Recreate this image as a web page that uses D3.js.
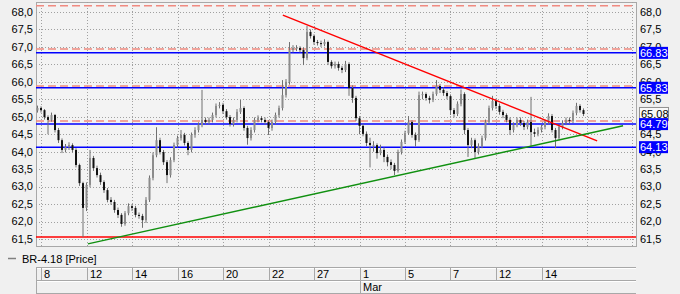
<!DOCTYPE html>
<html>
<head>
<meta charset="utf-8">
<script src="https://cdn.jsdelivr.net/npm/d3@7"></script>
<style>
  body { margin: 0; background: #f0f0f0; }
  svg { display: block; font-family: "Liberation Sans", Arial, sans-serif; }
</style>
</head>
<body>
<svg id="chart" width="680" height="294"></svg>
<script>
// price bars (one per bar, left to right)
const opens = [65.18,65.25,65.19,64.99,64.91,65.05,64.62,64.33,64.05,64.13,
  64.19,64.05,63.62,63.10,62.39,63.05,63.82,63.53,63.33,63.13,
  62.90,62.62,62.56,62.33,62.19,61.93,62.24,62.44,62.39,62.19,
  62.16,62.04,62.62,63.25,63.90,64.33,63.99,63.70,63.33,63.76,
  64.19,64.39,64.48,64.25,64.05,64.48,64.62,64.76,64.91,64.85,
  64.91,65.05,65.31,65.34,65.16,64.99,64.79,64.91,65.14,65.25,
  64.68,64.39,64.62,64.91,64.96,64.91,64.85,64.68,64.85,65.05,
  65.25,65.62,66.00,66.91,66.97,66.97,66.91,66.68,67.43,67.31,
  67.14,67.11,67.08,67.14,66.57,66.45,66.51,66.40,66.34,66.51,
  65.82,65.54,64.96,64.74,64.51,64.25,64.19,64.19,63.96,64.05,
  63.85,63.70,63.62,63.45,63.99,64.28,64.53,64.85,64.48,64.33,
  65.62,65.65,65.54,65.48,65.65,65.88,65.77,65.68,65.59,65.19,
  65.08,65.37,65.65,64.62,64.19,64.33,63.99,64.16,64.39,64.85,
  65.25,65.45,65.31,65.14,65.05,64.91,64.62,64.76,64.91,64.82,
  64.71,64.85,64.56,64.51,64.62,64.71,64.85,65.02,64.62,64.39,
  64.71,64.82,64.91,64.88,65.11,65.31,65.19];
const highs = [65.32,65.30,65.22,65.04,65.12,65.08,64.68,64.38,64.22,64.27,
  64.24,64.10,63.66,63.14,63.12,64.05,63.88,63.60,63.40,63.18,
  62.96,62.70,62.62,62.40,62.24,62.30,62.52,62.50,62.45,62.26,
  62.22,62.70,63.32,63.98,64.70,64.40,64.05,63.76,63.84,64.26,
  64.46,64.62,64.54,64.30,64.55,64.70,64.84,65.77,64.98,64.98,
  65.12,65.38,65.42,65.40,65.22,65.05,64.98,65.22,65.48,65.30,
  64.74,64.70,64.98,65.04,65.02,64.98,64.90,64.92,65.12,65.32,
  66.05,66.08,67.14,67.05,67.05,67.02,66.98,67.60,67.50,67.36,
  67.20,67.18,67.22,67.18,66.62,66.58,66.58,66.46,66.60,66.56,
  65.90,65.60,65.02,64.80,64.58,64.40,64.30,64.24,64.20,64.12,
  63.92,63.78,63.68,64.06,64.35,64.60,65.02,64.90,64.55,65.72,
  65.72,65.70,65.60,65.72,66.05,65.94,65.84,65.74,65.64,65.25,
  65.44,65.78,65.70,64.68,64.40,64.38,64.24,64.46,64.92,65.32,
  65.60,65.52,65.38,65.20,65.10,64.98,64.84,64.98,64.98,64.88,
  64.92,65.57,64.66,64.70,64.78,64.92,65.10,65.08,64.68,64.78,
  64.90,64.98,64.98,65.18,65.40,65.36,65.24];
const lows = [65.12,65.12,64.92,64.50,64.86,64.55,64.25,63.96,63.98,64.05,
  63.98,63.55,63.02,61.56,62.30,62.98,63.45,63.26,63.05,62.82,
  62.55,62.48,62.25,62.10,61.85,61.88,62.18,62.30,62.12,62.08,
  61.82,61.96,62.56,63.18,63.84,63.92,63.62,63.10,63.26,63.70,
  64.12,64.32,64.18,63.90,63.98,64.40,64.55,64.70,64.78,64.78,
  64.84,64.98,65.24,65.08,64.92,64.72,64.72,64.84,65.08,64.60,
  64.20,64.32,64.55,64.84,64.84,64.78,64.48,64.60,64.78,64.98,
  65.18,65.55,65.92,66.84,66.88,66.84,66.48,66.62,67.24,67.06,
  67.04,67.00,67.02,66.48,66.38,66.38,66.32,66.25,66.28,65.60,
  65.40,64.88,64.50,64.44,64.16,63.55,64.00,63.80,63.90,63.70,
  63.58,63.50,63.33,63.40,63.92,64.22,64.48,64.40,64.15,64.28,
  65.50,65.46,65.38,65.42,65.60,65.68,65.60,65.50,65.05,64.98,
  65.02,65.30,64.50,63.85,64.10,63.80,63.92,64.10,64.32,64.78,
  65.18,65.22,65.06,64.96,64.84,64.48,64.55,64.70,64.74,64.62,
  64.64,64.13,64.42,64.44,64.55,64.64,64.78,64.55,64.10,64.32,
  64.64,64.76,64.80,64.82,65.04,65.12,65.02];
const closes = [65.25,65.19,64.99,64.91,65.05,64.62,64.33,64.05,64.13,64.19,
  64.05,63.62,63.10,62.39,63.05,63.82,63.53,63.33,63.13,62.90,
  62.62,62.56,62.33,62.19,61.93,62.24,62.44,62.39,62.19,62.16,
  62.04,62.62,63.25,63.90,64.33,63.99,63.70,63.33,63.76,64.19,
  64.39,64.48,64.25,64.05,64.48,64.62,64.76,64.91,64.85,64.91,
  65.05,65.31,65.34,65.16,64.99,64.79,64.91,65.14,65.25,64.68,
  64.39,64.62,64.91,64.96,64.91,64.85,64.68,64.85,65.05,65.25,
  65.62,66.00,66.91,66.97,66.97,66.91,66.68,67.43,67.31,67.14,
  67.11,67.08,67.14,66.57,66.45,66.51,66.40,66.34,66.51,65.82,
  65.54,64.96,64.74,64.51,64.25,64.19,64.19,63.96,64.05,63.85,
  63.70,63.62,63.45,63.99,64.28,64.53,64.85,64.48,64.33,65.62,
  65.65,65.54,65.48,65.65,65.88,65.77,65.68,65.59,65.19,65.08,
  65.37,65.65,64.62,64.19,64.33,63.99,64.16,64.39,64.85,65.25,
  65.45,65.31,65.14,65.05,64.91,64.62,64.76,64.91,64.82,64.71,
  64.85,64.56,64.51,64.62,64.71,64.85,65.02,64.62,64.39,64.71,
  64.82,64.91,64.88,65.11,65.31,65.19,65.08];

// date axis: bar index where each label starts
const dateLabels = ["8","12","14","16","20","22","27","1","5","7","12","14"];
const dateIndex = [1,14,27,40,53,66,79,92,105,118,131,144];
const gridIndex = [1,14,27,40,53,66,79,92,105,118,131,144,157,170];
const monthLabel = "Mar";
const monthIndex = 92;

const yTicks = [61.5,62.0,62.5,63.0,63.5,64.0,64.5,65.0,65.5,66.0,66.5,67.0,67.5,68.0];
const blueLevels = [66.83, 65.83, 64.79, 64.13];
const dashedLevels = [68.18, 66.94, 65.88, 64.88];
const redLevel = 61.56;
const lastPrice = 65.08;
// trend lines as [bar index, price]
const resistTrend = [[70.1, 67.91], [159.9, 64.31]];
const supportTrend = [[14.4, 61.36], [167.3, 64.74]];

const svg = d3.select("#chart");
const plot = { left: 36, right: 636, top: 2, bottom: 246 };

const x = d3.scaleLinear().domain([0, closes.length - 1]).range([37.5, 583.5]);
const y = d3.scaleLinear().domain([61.5, 68.0]).range([239, 12]);

// plot frame
svg.append("rect")
  .attr("x", plot.left + 0.5).attr("y", plot.top + 0.5)
  .attr("width", plot.right - plot.left).attr("height", plot.bottom - plot.top)
  .attr("fill", "#f3f3f3").attr("stroke", "#a8a8a8");

// dotted grid
svg.append("g").selectAll("line").data(yTicks).enter().append("line")
  .attr("x1", plot.left).attr("x2", plot.right)
  .attr("y1", d => Math.round(y(d)) + 0.5).attr("y2", d => Math.round(y(d)) + 0.5)
  .attr("stroke", "#a0a0a0").attr("stroke-dasharray", "1,2");
svg.append("g").selectAll("line").data(gridIndex).enter().append("line")
  .attr("x1", d => Math.round(x(d)) + 0.5).attr("x2", d => Math.round(x(d)) + 0.5)
  .attr("y1", plot.top).attr("y2", plot.bottom)
  .attr("stroke", "#a0a0a0").attr("stroke-dasharray", "1,2");

// horizontal levels
svg.append("g").selectAll("line").data(dashedLevels).enter().append("line")
  .attr("x1", plot.left).attr("x2", plot.right)
  .attr("y1", d => y(d)).attr("y2", d => y(d))
  .attr("stroke", "#f08a80").attr("stroke-width", 1.5).attr("stroke-dasharray", "8,4");
svg.append("g").selectAll("line").data(blueLevels).enter().append("line")
  .attr("x1", plot.left).attr("x2", plot.right)
  .attr("y1", d => y(d)).attr("y2", d => y(d))
  .attr("stroke", "#0000ff").attr("stroke-width", 1.5);
svg.append("line")
  .attr("x1", plot.left).attr("x2", plot.right)
  .attr("y1", y(redLevel)).attr("y2", y(redLevel))
  .attr("stroke", "#ff0000").attr("stroke-width", 1.5);

// candles
const bars = closes.map((c, i) => ({ i: i, o: opens[i], h: highs[i], l: lows[i], c: c }));
const g = svg.append("g");
g.selectAll(".wick").data(bars).enter().append("line")
  .attr("x1", d => x(d.i)).attr("x2", d => x(d.i))
  .attr("y1", d => y(d.h)).attr("y2", d => y(d.l))
  .attr("stroke", "#707070").attr("stroke-width", 1);
g.selectAll(".body").data(bars).enter().append("rect")
  .attr("x", d => x(d.i) - 1).attr("width", 2)
  .attr("y", d => y(Math.max(d.o, d.c)))
  .attr("height", d => Math.max(1, Math.abs(y(d.o) - y(d.c))))
  .attr("fill", d => d.c < d.o ? "#111" : "#8c8c8c");

// trend lines
const trend = d3.line().x(d => x(d[0])).y(d => y(d[1]));
svg.append("path").attr("d", trend(resistTrend))
  .attr("fill", "none").attr("stroke", "#ff0000").attr("stroke-width", 1.5);
svg.append("path").attr("d", trend(supportTrend))
  .attr("fill", "none").attr("stroke", "#109010").attr("stroke-width", 1.5);

// axis labels
svg.append("g").selectAll("text").data(yTicks).enter().append("text")
  .attr("x", 33).attr("y", d => y(d)).attr("dy", "0.35em")
  .attr("text-anchor", "end").attr("font-size", 11).attr("fill", "#000")
  .text(d => d3.format(".1f")(d).replace(".", ","));
svg.append("g").selectAll("text").data(yTicks).enter().append("text")
  .attr("x", 640).attr("y", d => y(d)).attr("dy", "0.35em")
  .attr("font-size", 11).attr("fill", "#000")
  .text(d => d3.format(".1f")(d).replace(".", ","));

// level tags
const tags = svg.append("g");
tags.append("rect").attr("x", 639.5).attr("y", y(lastPrice) - 6.5)
  .attr("width", 29).attr("height", 13).attr("fill", "#f8f8f8").attr("stroke", "#909090");
tags.append("text").attr("x", 641).attr("y", y(lastPrice)).attr("dy", "0.35em")
  .attr("font-size", 11).attr("fill", "#000").text(lastPrice.toFixed(2));
blueLevels.forEach(v => {
  tags.append("rect").attr("x", 639).attr("y", y(v) - 6)
    .attr("width", 29).attr("height", 12).attr("fill", "#0000ff");
  tags.append("text").attr("x", 640).attr("y", y(v)).attr("dy", "0.35em")
    .attr("font-size", 11).attr("fill", "#fff").text(v.toFixed(2));
});

// legend
svg.append("line").attr("x1", 8).attr("x2", 16).attr("y1", 258.5).attr("y2", 258.5)
  .attr("stroke", "#808080").attr("stroke-width", 1.5);
svg.append("text").attr("x", 22).attr("y", 262.5).attr("font-size", 11)
  .attr("fill", "#000").text("BR-4.18 [Price]");

// date axis
const ax = svg.append("g");
[267, 280, 293].forEach(yy => {
  ax.append("line").attr("x1", plot.left).attr("x2", plot.right)
    .attr("y1", yy + 0.5).attr("y2", yy + 0.5).attr("stroke", "#a8a8a8");
  ax.append("line").attr("x1", plot.left).attr("x2", plot.right)
    .attr("y1", yy + 1.5).attr("y2", yy + 1.5).attr("stroke", "#ffffff");
});
ax.append("line").attr("x1", plot.left + 0.5).attr("x2", plot.left + 0.5)
  .attr("y1", 267).attr("y2", 293).attr("stroke", "#a8a8a8");
ax.selectAll(".sep").data(dateIndex).enter().append("line")
  .attr("x1", d => Math.round(x(d)) + 0.5).attr("x2", d => Math.round(x(d)) + 0.5)
  .attr("y1", 267).attr("y2", d => d === monthIndex ? 293 : 280)
  .attr("stroke", "#a8a8a8");
ax.selectAll(".lbl").data(dateIndex).enter().append("text")
  .attr("x", d => Math.round(x(d)) + 3).attr("y", 277.5)
  .attr("font-size", 11).attr("fill", "#000")
  .text((d, k) => dateLabels[k]);
ax.append("text").attr("x", Math.round(x(monthIndex)) + 3).attr("y", 290.5)
  .attr("font-size", 11).attr("fill", "#000").text(monthLabel);
</script>
</body>
</html>
